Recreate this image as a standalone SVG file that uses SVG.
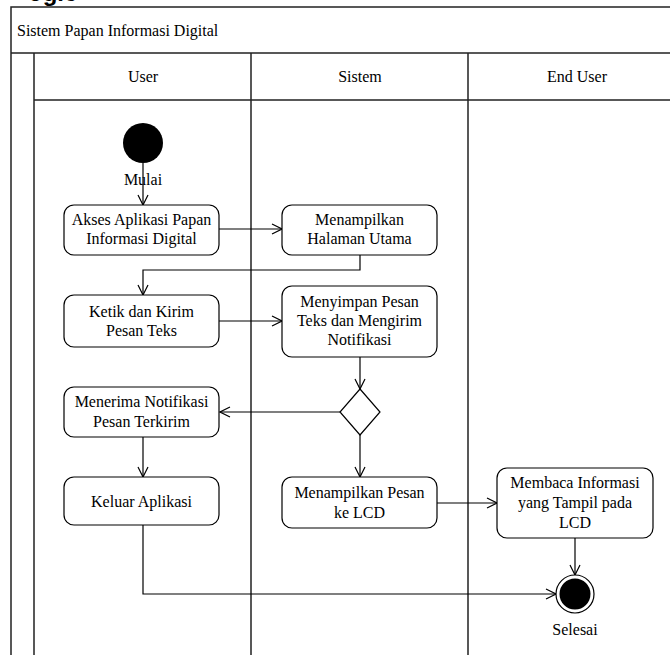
<svg xmlns="http://www.w3.org/2000/svg" width="670" height="655" viewBox="0 0 670 655">
  <style>
    .frame { fill: none; stroke: #222; stroke-width: 1.5; }
    .act { fill: #fff; stroke: #000; stroke-width: 1.2; }
    .t { font-family: "Times New Roman", "Liberation Serif", "DejaVu Serif", serif; font-size: 16px; fill: #000; text-anchor: middle; }
    .conn { fill: none; stroke: #000; stroke-width: 1.2; }
  </style>
  <defs>
    <marker id="open" viewBox="0 0 12 12" refX="11" refY="6" markerWidth="12" markerHeight="12" markerUnits="userSpaceOnUse" orient="auto">
      <path d="M1,1 L11,6 L1,11" fill="none" stroke="#000" stroke-width="1.2"/>
    </marker>
  </defs>
  <rect width="670" height="655" fill="#fff"/>

  <!-- heading fragment -->
  <text x="28" y="1" font-family="Liberation Sans, Arial, sans-serif" font-size="24" font-weight="bold" fill="#000">ogic</text>

  <!-- swimlane pool -->
  <g id="pool">
    <path class="frame" d="M11,655 V7 H670 M11,53 H670 M34,100 H670 M34,53 V655 M251,53 V655 M468,53 V655"/>
    <text x="17" y="36" class="t" text-anchor="start" style="text-anchor:start">Sistem Papan Informasi Digital</text>
    <text x="143" y="82" class="t">User</text>
    <text x="360" y="82" class="t">Sistem</text>
    <text x="577" y="82" class="t">End User</text>
  </g>

  <!-- connectors -->
  <g id="connectors">
    <line class="conn" x1="143" y1="163" x2="143" y2="205" marker-end="url(#open)"/>
    <line class="conn" x1="219" y1="229" x2="282" y2="229" marker-end="url(#open)"/>
    <polyline class="conn" points="360,255 360,270 143,270 143,295" marker-end="url(#open)"/>
    <line class="conn" x1="219" y1="321" x2="282" y2="321" marker-end="url(#open)"/>
    <line class="conn" x1="360" y1="357" x2="360" y2="389" marker-end="url(#open)"/>
    <line class="conn" x1="340" y1="412" x2="220" y2="412" marker-end="url(#open)"/>
    <line class="conn" x1="143" y1="437" x2="143" y2="477" marker-end="url(#open)"/>
    <line class="conn" x1="360" y1="435" x2="360" y2="477" marker-end="url(#open)"/>
    <line class="conn" x1="437" y1="503" x2="497" y2="503" marker-end="url(#open)"/>
    <line class="conn" x1="575" y1="538" x2="575" y2="575" marker-end="url(#open)"/>
    <polyline class="conn" points="143,525 143,594 556,594" marker-end="url(#open)"/>
  </g>

  <!-- start node -->
  <g id="start">
    <circle cx="143" cy="143" r="20" fill="#000"/>
    <text x="143" y="185" class="t">Mulai</text>
  </g>

  <g id="akses">
    <rect class="act" x="64" y="205" width="155" height="50" rx="10"/>
    <text x="141.5" y="225" class="t">Akses Aplikasi Papan</text>
    <text x="141.5" y="244" class="t">Informasi Digital</text>
  </g>

  <g id="halaman">
    <rect class="act" x="282" y="205" width="155" height="50" rx="10"/>
    <text x="359.5" y="225" class="t">Menampilkan</text>
    <text x="359.5" y="244" class="t">Halaman Utama</text>
  </g>

  <g id="ketik">
    <rect class="act" x="64" y="295" width="155" height="52" rx="10"/>
    <text x="141.5" y="317" class="t">Ketik dan Kirim</text>
    <text x="141.5" y="336" class="t">Pesan Teks</text>
  </g>

  <g id="simpan">
    <rect class="act" x="282" y="286" width="155" height="71" rx="10"/>
    <text x="359.5" y="307" class="t">Menyimpan Pesan</text>
    <text x="359.5" y="326" class="t">Teks dan Mengirim</text>
    <text x="359.5" y="345" class="t">Notifikasi</text>
  </g>

  <g id="keputusan">
    <polygon class="act" points="360,389 380,412 360,435 340,412"/>
  </g>

  <g id="terima">
    <rect class="act" x="64" y="387" width="155" height="50" rx="10"/>
    <text x="141.5" y="407" class="t">Menerima Notifikasi</text>
    <text x="141.5" y="427" class="t">Pesan Terkirim</text>
  </g>

  <g id="keluar">
    <rect class="act" x="64" y="477" width="155" height="48" rx="10"/>
    <text x="141.5" y="507" class="t">Keluar Aplikasi</text>
  </g>

  <g id="tampil-lcd">
    <rect class="act" x="282" y="477" width="155" height="51" rx="10"/>
    <text x="359.5" y="498" class="t">Menampilkan Pesan</text>
    <text x="359.5" y="518" class="t">ke LCD</text>
  </g>

  <g id="membaca">
    <rect class="act" x="497" y="468" width="156" height="70" rx="10"/>
    <text x="575" y="488" class="t">Membaca Informasi</text>
    <text x="575" y="508" class="t">yang Tampil pada</text>
    <text x="575" y="528" class="t">LCD</text>
  </g>

  <!-- end node -->
  <g id="selesai">
    <circle cx="575" cy="594" r="19" fill="#fff" stroke="#000" stroke-width="1.2"/>
    <circle cx="575" cy="594" r="15.5" fill="#000"/>
    <text x="575" y="635" class="t">Selesai</text>
  </g>
</svg>
